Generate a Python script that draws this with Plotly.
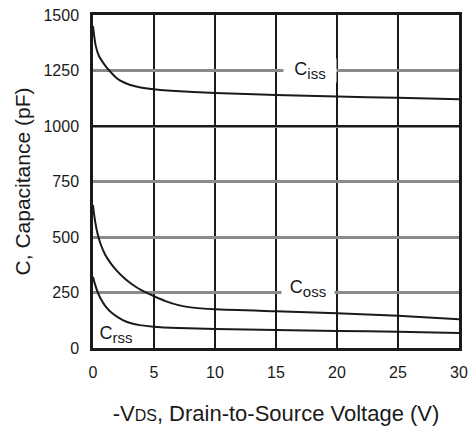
import plotly.graph_objects as go

# Capacitance vs. drain-to-source voltage (values in pF)
vds_ciss = [0, 0.1, 0.22, 0.5, 1, 1.33, 2, 2.5, 3, 3.8, 5, 7.5, 10, 15, 20, 25, 30]
ciss = [1450, 1405, 1362, 1314, 1272, 1250, 1213, 1197, 1186, 1175, 1166, 1155, 1149, 1140, 1133, 1127, 1120]

vds_coss = [0, 0.1, 0.2, 0.36, 0.6, 1, 1.5, 2, 2.44, 3, 3.5, 4, 4.5, 5, 6, 7, 8, 10, 15, 20, 25, 30]
coss = [644, 598, 562, 518, 472, 420, 378, 345, 321, 295, 276, 260, 246, 233, 210, 193, 183, 174, 165, 157, 145, 130]

vds_crss = [0, 0.15, 0.36, 0.6, 1.06, 1.6, 2.44, 3.2, 3.83, 4.94, 7, 10, 15, 20, 25, 30]
crss = [321, 290, 255, 225, 185, 155, 126, 110, 103, 96, 90, 86, 81, 77, 73, 68]

x_ticks = [0, 5, 10, 15, 20, 25, 30]
y_ticks = [0, 250, 500, 750, 1000, 1250, 1500]

FONT = "Liberation Sans, Arial, sans-serif"
INK = "#1a1a1a"

fig = go.Figure()
for xs, ys in [(vds_ciss, ciss), (vds_coss, coss), (vds_crss, crss)]:
    fig.add_trace(go.Scatter(
        x=xs, y=ys, mode="lines",
        line=dict(color=INK, width=2, shape="spline", smoothing=0.6),
        showlegend=False, hoverinfo="skip",
    ))

# darker rule at 1000 pF
fig.add_shape(type="line", xref="x", yref="y", x0=0, x1=30, y0=1000, y1=1000,
              line=dict(color=INK, width=2), layer="above")


def sub_label(main, sub):
    return f"{main}<sub><span style='font-size:15px'>{sub}</span></sub>"


# curve labels sitting on the grid lines
labels = [
    (17.8, 1250, sub_label("C", "iss"), 52, "white"),
    (17.6, 268, sub_label("C", "oss"), 52, "white"),
    (1.9, 60, sub_label("C", "rss"), 42, "rgba(0,0,0,0)"),
]
for lx, ly, txt, w, bg in labels:
    fig.add_annotation(x=lx, y=ly, xref="x", yref="y", text=txt, showarrow=False,
                       font=dict(family=FONT, size=18, color=INK),
                       bgcolor=bg, width=w, borderpad=0)

axis_common = dict(
    showline=True, linecolor=INK, linewidth=2.5, mirror=True,
    ticks="", showgrid=True, zeroline=False, automargin=False,
    tickfont=dict(family=FONT, size=16, color=INK),
)

fig.update_xaxes(
    range=[0, 30], tickvals=x_ticks, ticktext=[str(v) for v in x_ticks],
    gridcolor=INK, gridwidth=1.8, ticklabelstandoff=8,
    title=dict(text="-V<span style='font-size:16px'>DS</span>, Drain-to-Source Voltage (V)",
               font=dict(family=FONT, size=22, color=INK), standoff=32),
    **axis_common,
)
fig.update_yaxes(
    range=[0, 1500], tickvals=y_ticks, ticktext=[str(v) for v in y_ticks],
    gridcolor="#8a8a8a", gridwidth=2.5, ticklabelstandoff=8,
    title=dict(text="C, Capacitance (pF)", font=dict(family=FONT, size=21, color=INK),
               standoff=8),
    **axis_common,
)

fig.update_layout(
    width=470, height=426,
    margin=dict(l=93, r=11, t=15, b=78),
    paper_bgcolor="white", plot_bgcolor="white",
)

fig.write_html("out.html")
